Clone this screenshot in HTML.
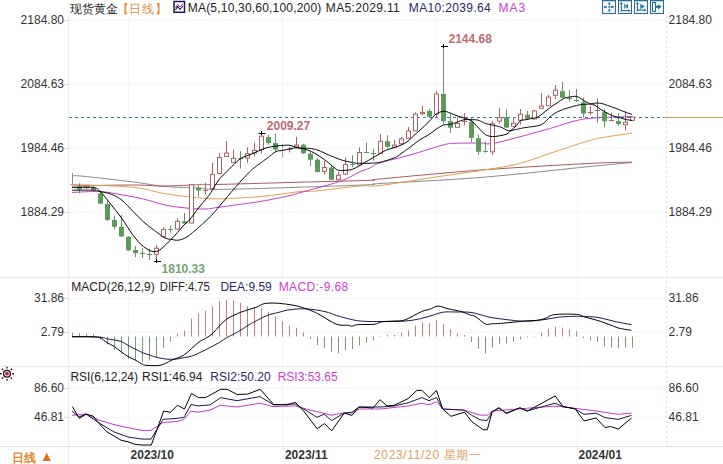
<!DOCTYPE html><html><head><meta charset="utf-8"><style>html,body{margin:0;padding:0;background:#fff;}svg{display:block}text{font-family:"Liberation Sans",sans-serif;font-size:12px}</style></head><body>
<svg width="723" height="464" viewBox="0 0 723 464">
<rect width="723" height="464" fill="#fff"/>
<g stroke="#f6f6f6" stroke-width="1">
<line x1="68" y1="20.5" x2="666" y2="20.5"/>
<line x1="68" y1="84.5" x2="666" y2="84.5"/>
<line x1="68" y1="148.5" x2="666" y2="148.5"/>
<line x1="68" y1="212.5" x2="666" y2="212.5"/>
<line x1="68" y1="298.5" x2="666" y2="298.5"/>
<line x1="68" y1="332.5" x2="666" y2="332.5"/>
<line x1="68" y1="388.5" x2="666" y2="388.5"/>
<line x1="68" y1="417.5" x2="666" y2="417.5"/>
<line x1="128.5" y1="16" x2="128.5" y2="446"/>
<line x1="282.5" y1="16" x2="282.5" y2="446"/>
<line x1="435.5" y1="16" x2="435.5" y2="446"/>
<line x1="577.5" y1="16" x2="577.5" y2="446"/>
</g>
<line x1="68.5" y1="16" x2="68.5" y2="464" stroke="#ececec"/>
<line x1="666.5" y1="16" x2="666.5" y2="446" stroke="#dcdcdc" stroke-dasharray="2,3"/>
<line x1="0" y1="277.5" x2="723" y2="277.5" stroke="#e8e8e8"/>
<line x1="0" y1="366.5" x2="723" y2="366.5" stroke="#e8e8e8"/>
<line x1="0" y1="446.5" x2="723" y2="446.5" stroke="#e4e4e4"/>
<g stroke="#dddddd">
<line x1="64" y1="20.5" x2="68" y2="20.5"/>
<line x1="64" y1="84.5" x2="68" y2="84.5"/>
<line x1="64" y1="148.5" x2="68" y2="148.5"/>
<line x1="64" y1="212.5" x2="68" y2="212.5"/>
<line x1="64" y1="298.5" x2="68" y2="298.5"/>
<line x1="64" y1="332.5" x2="68" y2="332.5"/>
<line x1="64" y1="388.5" x2="68" y2="388.5"/>
<line x1="64" y1="417.5" x2="68" y2="417.5"/>
<line x1="128.5" y1="446" x2="128.5" y2="450"/>
<line x1="283.5" y1="446" x2="283.5" y2="450"/>
<line x1="577.5" y1="446" x2="577.5" y2="450"/>
</g>
<line x1="72.5" y1="184.5" x2="72.5" y2="173" stroke="#8a8a8a"/>
<path d="M72.5,176.0 C74.1,176.0 72.0,175.1 82.0,176.1 C92.0,177.1 118.9,180.2 132.7,181.9 C146.5,183.6 153.8,185.5 165.0,186.5 C176.2,187.5 190.8,187.6 200.0,188.1 C209.2,188.6 203.3,189.6 220.0,189.4 C236.7,189.2 275.0,188.0 300.0,187.2 C325.0,186.4 356.7,185.3 370.0,184.7 C383.3,184.1 361.7,184.7 380.0,183.5 C398.3,182.3 445.0,180.3 480.0,177.5 C515.0,174.7 564.7,169.0 590.0,166.5 C615.3,164.0 625.0,163.2 632.0,162.5" fill="none" stroke="#8a8a8a" stroke-width="1"/>
<path d="M72.0,186.0 C82.1,185.8 117.2,185.0 132.7,185.0 C148.2,185.0 153.8,186.1 165.0,186.0 C176.2,185.9 190.8,185.0 200.0,184.7 C209.2,184.4 203.3,184.8 220.0,184.4 C236.7,184.0 275.0,182.9 300.0,182.2 C325.0,181.5 356.7,180.8 370.0,180.3 C383.3,179.8 361.7,180.7 380.0,179.0 C398.3,177.3 445.0,172.7 480.0,170.1 C515.0,167.5 564.7,164.7 590.0,163.4 C615.3,162.1 625.0,162.3 632.0,162.1" fill="none" stroke="#a45a5a" stroke-width="1"/>
<path d="M70.0,184.4 C80.5,184.9 116.9,185.6 132.7,187.2 C148.5,188.8 153.8,191.9 165.0,193.7 C176.2,195.5 190.8,197.2 200.0,198.0 C209.2,198.8 210.0,199.0 220.0,198.8 C230.0,198.6 246.7,197.8 260.0,196.6 C273.3,195.4 290.9,192.5 300.0,191.6 C309.1,190.7 304.7,192.0 314.7,191.1 C324.7,190.2 349.1,186.9 360.0,186.0 C370.9,185.1 368.2,186.9 380.0,185.5 C391.8,184.1 414.3,180.2 431.0,177.7 C447.7,175.2 465.7,172.9 480.0,170.6 C494.3,168.3 504.8,167.1 517.0,164.1 C529.2,161.1 543.3,155.5 553.0,152.3 C562.7,149.1 568.8,147.1 575.0,145.1 C581.2,143.1 585.2,141.7 590.0,140.4 C594.8,139.1 597.0,138.5 604.0,137.3 C611.0,136.1 627.3,133.8 632.0,133.1" fill="none" stroke="#e0a050" stroke-width="1"/>
<path d="M72.0,192.4 C76.7,192.3 91.7,191.2 100.0,191.6 C108.3,192.0 114.7,193.6 121.9,194.8 C129.1,196.0 136.2,197.3 143.4,199.0 C150.6,200.7 157.9,203.5 165.0,205.0 C172.1,206.5 179.3,207.3 186.0,208.0 C192.7,208.7 199.3,209.2 205.0,209.0 C210.7,208.8 210.8,208.3 220.0,207.1 C229.2,205.8 248.3,203.4 260.0,201.5 C271.7,199.6 283.3,197.0 290.0,195.5 C296.7,194.0 291.7,195.1 300.0,192.7 C308.3,190.3 330.0,184.8 340.0,181.3 C350.0,177.8 355.0,174.0 360.0,171.8 C365.0,169.6 366.7,169.4 370.0,167.9 C373.3,166.4 373.3,165.0 380.0,162.8 C386.7,160.7 399.5,158.0 410.0,155.0 C420.5,152.0 435.5,146.9 443.0,145.0 C450.5,143.1 448.6,143.6 454.8,143.3 C461.0,143.0 473.3,143.1 480.0,143.0 C486.7,142.9 484.8,145.0 495.0,143.0 C505.2,141.0 531.0,133.7 541.0,131.0 C551.0,128.3 549.3,128.7 555.0,127.0 C560.7,125.3 568.5,122.4 575.0,120.9 C581.5,119.4 584.5,118.7 594.0,118.0 C603.5,117.3 625.7,116.8 632.0,116.5" fill="none" stroke="#c040c0" stroke-width="1"/>
<line x1="69" y1="117.5" x2="660" y2="117.5" stroke="#3a74a0" stroke-dasharray="3,3"/>
<line x1="662.5" y1="117.5" x2="723" y2="117.5" stroke="#c8a050"/>
<line x1="79.5" y1="183.3" x2="79.5" y2="193.3" stroke="#6e8e6e"/>
<rect x="77" y="186.6" width="5" height="2.8" fill="#5c9a5c"/>
<line x1="86.5" y1="185.0" x2="86.5" y2="189.0" stroke="#a86464"/>
<rect x="84.5" y="186.0" width="4" height="1.7" fill="#fff" stroke="#a86464"/>
<line x1="93.5" y1="186.0" x2="93.5" y2="191.0" stroke="#6e8e6e"/>
<rect x="91" y="187.7" width="5" height="2.3" fill="#5c9a5c"/>
<line x1="100.5" y1="192.0" x2="100.5" y2="204.0" stroke="#6e8e6e"/>
<rect x="98" y="193.5" width="5" height="10.2" fill="#5c9a5c"/>
<line x1="107.5" y1="201.0" x2="107.5" y2="221.0" stroke="#6e8e6e"/>
<rect x="105" y="203.9" width="5" height="16.0" fill="#5c9a5c"/>
<line x1="114.5" y1="215.8" x2="114.5" y2="229.4" stroke="#6e8e6e"/>
<rect x="112" y="220.0" width="5" height="6.8" fill="#5c9a5c"/>
<line x1="121.5" y1="215.0" x2="121.5" y2="237.0" stroke="#6e8e6e"/>
<rect x="119" y="226.8" width="5" height="9.7" fill="#5c9a5c"/>
<line x1="128.5" y1="236.0" x2="128.5" y2="251.0" stroke="#6e8e6e"/>
<rect x="126" y="236.9" width="5" height="13.5" fill="#5c9a5c"/>
<line x1="135.5" y1="246.0" x2="135.5" y2="257.2" stroke="#6e8e6e"/>
<rect x="133" y="250.0" width="5" height="3.3" fill="#5c9a5c"/>
<line x1="142.5" y1="248.0" x2="142.5" y2="258.0" stroke="#6e8e6e"/>
<line x1="140" y1="253.5" x2="145" y2="253.5" stroke="#5c9a5c"/>
<line x1="149.5" y1="249.0" x2="149.5" y2="260.0" stroke="#6e8e6e"/>
<line x1="147" y1="254.5" x2="152" y2="254.5" stroke="#5c9a5c"/>
<line x1="156.5" y1="245.0" x2="156.5" y2="261.0" stroke="#a86464"/>
<rect x="154.5" y="248.2" width="4" height="6.0" fill="#fff" stroke="#a86464"/>
<line x1="163.5" y1="227.0" x2="163.5" y2="238.0" stroke="#a86464"/>
<rect x="161.5" y="229.6" width="4" height="7.0" fill="#fff" stroke="#a86464"/>
<line x1="170.5" y1="225.5" x2="170.5" y2="232.6" stroke="#6e8e6e"/>
<line x1="168" y1="229.5" x2="173" y2="229.5" stroke="#5c9a5c"/>
<line x1="177.5" y1="218.3" x2="177.5" y2="229.5" stroke="#a86464"/>
<rect x="175.5" y="221.3" width="4" height="7.8" fill="#fff" stroke="#a86464"/>
<line x1="184.5" y1="213.0" x2="184.5" y2="223.5" stroke="#6e8e6e"/>
<rect x="182" y="221.3" width="5" height="2.2" fill="#5c9a5c"/>
<line x1="191.5" y1="184.2" x2="191.5" y2="223.0" stroke="#a86464"/>
<rect x="189.5" y="184.7" width="4" height="38.3" fill="#fff" stroke="#a86464"/>
<line x1="198.5" y1="185.7" x2="198.5" y2="196.8" stroke="#6e8e6e"/>
<rect x="196" y="187.6" width="5" height="2.9" fill="#5c9a5c"/>
<line x1="205.5" y1="182.8" x2="205.5" y2="194.4" stroke="#a86464"/>
<line x1="203" y1="190.5" x2="208" y2="190.5" stroke="#a86464"/>
<line x1="212.5" y1="162.8" x2="212.5" y2="189.0" stroke="#a86464"/>
<rect x="210.5" y="174.4" width="4" height="14.2" fill="#fff" stroke="#a86464"/>
<line x1="219.5" y1="153.1" x2="219.5" y2="174.0" stroke="#a86464"/>
<rect x="217.5" y="157.5" width="4" height="16.0" fill="#fff" stroke="#a86464"/>
<line x1="226.5" y1="141.0" x2="226.5" y2="157.0" stroke="#a86464"/>
<rect x="224.5" y="153.1" width="4" height="3.4" fill="#fff" stroke="#a86464"/>
<line x1="233.5" y1="149.7" x2="233.5" y2="163.0" stroke="#a86464"/>
<rect x="231.5" y="158.4" width="4" height="3.9" fill="#fff" stroke="#a86464"/>
<line x1="240.5" y1="151.2" x2="240.5" y2="168.6" stroke="#6e8e6e"/>
<line x1="238" y1="158.5" x2="243" y2="158.5" stroke="#5c9a5c"/>
<line x1="247.5" y1="147.3" x2="247.5" y2="162.8" stroke="#a86464"/>
<rect x="245.5" y="153.6" width="4" height="4.4" fill="#fff" stroke="#a86464"/>
<line x1="254.5" y1="142.7" x2="254.5" y2="156.5" stroke="#a86464"/>
<rect x="252.5" y="150.4" width="4" height="2.6" fill="#fff" stroke="#a86464"/>
<line x1="261.5" y1="133.0" x2="261.5" y2="153.4" stroke="#a86464"/>
<rect x="259.5" y="136.2" width="4" height="13.4" fill="#fff" stroke="#a86464"/>
<line x1="268.5" y1="134.9" x2="268.5" y2="144.8" stroke="#6e8e6e"/>
<rect x="266" y="137.1" width="5" height="6.0" fill="#5c9a5c"/>
<line x1="275.5" y1="133.6" x2="275.5" y2="151.7" stroke="#6e8e6e"/>
<rect x="273" y="143.1" width="5" height="6.5" fill="#5c9a5c"/>
<line x1="282.5" y1="144.0" x2="282.5" y2="157.8" stroke="#a0a0a0"/>
<line x1="280" y1="150.5" x2="285" y2="150.5" stroke="#a0a0a0"/>
<line x1="289.5" y1="147.0" x2="289.5" y2="152.4" stroke="#a86464"/>
<line x1="287" y1="149.5" x2="292" y2="149.5" stroke="#a86464"/>
<line x1="296.5" y1="136.9" x2="296.5" y2="147.0" stroke="#a86464"/>
<rect x="294.5" y="145.1" width="4" height="1.7" fill="#fff" stroke="#a86464"/>
<line x1="303.5" y1="143.8" x2="303.5" y2="154.0" stroke="#6e8e6e"/>
<rect x="301" y="144.7" width="5" height="8.6" fill="#5c9a5c"/>
<line x1="310.5" y1="152.0" x2="310.5" y2="166.2" stroke="#6e8e6e"/>
<rect x="308" y="153.7" width="5" height="6.0" fill="#5c9a5c"/>
<line x1="317.5" y1="158.0" x2="317.5" y2="172.5" stroke="#6e8e6e"/>
<rect x="315" y="159.7" width="5" height="12.3" fill="#5c9a5c"/>
<line x1="324.5" y1="161.0" x2="324.5" y2="174.6" stroke="#a86464"/>
<rect x="322.5" y="167.5" width="4" height="3.9" fill="#fff" stroke="#a86464"/>
<line x1="331.5" y1="165.0" x2="331.5" y2="180.0" stroke="#6e8e6e"/>
<rect x="329" y="167.5" width="5" height="12.3" fill="#5c9a5c"/>
<line x1="338.5" y1="171.9" x2="338.5" y2="181.1" stroke="#a86464"/>
<rect x="336.5" y="175.3" width="4" height="4.4" fill="#fff" stroke="#a86464"/>
<line x1="345.5" y1="157.7" x2="345.5" y2="175.0" stroke="#a86464"/>
<rect x="343.5" y="164.6" width="4" height="9.5" fill="#fff" stroke="#a86464"/>
<line x1="352.5" y1="155.1" x2="352.5" y2="167.2" stroke="#6e8e6e"/>
<line x1="350" y1="164.5" x2="355" y2="164.5" stroke="#5c9a5c"/>
<line x1="359.5" y1="147.3" x2="359.5" y2="165.2" stroke="#a86464"/>
<rect x="357.5" y="152.5" width="4" height="12.5" fill="#fff" stroke="#a86464"/>
<line x1="366.5" y1="142.6" x2="366.5" y2="153.0" stroke="#6e8e6e"/>
<line x1="364" y1="152.5" x2="369" y2="152.5" stroke="#5c9a5c"/>
<line x1="373.5" y1="149.0" x2="373.5" y2="160.6" stroke="#6e8e6e"/>
<line x1="371" y1="153.5" x2="376" y2="153.5" stroke="#5c9a5c"/>
<line x1="380.5" y1="133.9" x2="380.5" y2="153.5" stroke="#a86464"/>
<rect x="378.5" y="141.2" width="4" height="12.1" fill="#fff" stroke="#a86464"/>
<line x1="387.5" y1="135.2" x2="387.5" y2="148.0" stroke="#6e8e6e"/>
<rect x="385" y="141.2" width="5" height="5.6" fill="#5c9a5c"/>
<line x1="394.5" y1="139.9" x2="394.5" y2="147.4" stroke="#a86464"/>
<rect x="392.5" y="145.1" width="4" height="2.1" fill="#fff" stroke="#a86464"/>
<line x1="401.5" y1="136.9" x2="401.5" y2="144.0" stroke="#a86464"/>
<rect x="399.5" y="139.0" width="4" height="4.8" fill="#fff" stroke="#a86464"/>
<line x1="408.5" y1="126.9" x2="408.5" y2="138.5" stroke="#a86464"/>
<rect x="406.5" y="131.0" width="4" height="7.2" fill="#fff" stroke="#a86464"/>
<line x1="415.5" y1="112.2" x2="415.5" y2="131.0" stroke="#a86464"/>
<rect x="413.5" y="114.1" width="4" height="16.8" fill="#fff" stroke="#a86464"/>
<line x1="422.5" y1="105.7" x2="422.5" y2="115.4" stroke="#a86464"/>
<rect x="420.5" y="112.4" width="4" height="1.3" fill="#fff" stroke="#a86464"/>
<line x1="429.5" y1="108.9" x2="429.5" y2="118.0" stroke="#6e8e6e"/>
<rect x="427" y="110.9" width="5" height="5.8" fill="#5c9a5c"/>
<line x1="436.5" y1="90.8" x2="436.5" y2="116.7" stroke="#a86464"/>
<rect x="434.5" y="94.0" width="4" height="20.1" fill="#fff" stroke="#a86464"/>
<line x1="443.5" y1="45.5" x2="443.5" y2="124.5" stroke="#6e8e6e"/>
<rect x="441" y="94.0" width="5" height="27.2" fill="#5c9a5c"/>
<line x1="450.5" y1="114.1" x2="450.5" y2="132.9" stroke="#6e8e6e"/>
<rect x="448" y="121.2" width="5" height="6.5" fill="#5c9a5c"/>
<line x1="457.5" y1="117.1" x2="457.5" y2="128.0" stroke="#a86464"/>
<rect x="455.5" y="123.5" width="4" height="3.9" fill="#fff" stroke="#a86464"/>
<line x1="464.5" y1="113.2" x2="464.5" y2="125.3" stroke="#a86464"/>
<line x1="462" y1="121.5" x2="467" y2="121.5" stroke="#a86464"/>
<line x1="471.5" y1="117.5" x2="471.5" y2="142.0" stroke="#6e8e6e"/>
<rect x="469" y="121.8" width="5" height="16.0" fill="#5c9a5c"/>
<line x1="478.5" y1="134.5" x2="478.5" y2="154.9" stroke="#6e8e6e"/>
<rect x="476" y="138.3" width="5" height="13.5" fill="#5c9a5c"/>
<line x1="485.5" y1="141.3" x2="485.5" y2="152.6" stroke="#6e8e6e"/>
<line x1="483" y1="151.5" x2="488" y2="151.5" stroke="#5c9a5c"/>
<line x1="492.5" y1="121.1" x2="492.5" y2="154.9" stroke="#a86464"/>
<rect x="490.5" y="123.7" width="4" height="28.1" fill="#fff" stroke="#a86464"/>
<line x1="499.5" y1="107.8" x2="499.5" y2="123.3" stroke="#a86464"/>
<rect x="497.5" y="117.7" width="4" height="3.4" fill="#fff" stroke="#a86464"/>
<line x1="506.5" y1="109.5" x2="506.5" y2="128.0" stroke="#6e8e6e"/>
<rect x="504" y="117.2" width="5" height="10.4" fill="#5c9a5c"/>
<line x1="513.5" y1="117.2" x2="513.5" y2="126.5" stroke="#a86464"/>
<rect x="511.5" y="123.3" width="4" height="3.0" fill="#fff" stroke="#a86464"/>
<line x1="520.5" y1="109.0" x2="520.5" y2="124.6" stroke="#a86464"/>
<rect x="518.5" y="114.2" width="4" height="6.1" fill="#fff" stroke="#a86464"/>
<line x1="527.5" y1="110.9" x2="527.5" y2="119.0" stroke="#6e8e6e"/>
<rect x="525" y="114.7" width="5" height="3.9" fill="#5c9a5c"/>
<line x1="534.5" y1="110.0" x2="534.5" y2="119.5" stroke="#a86464"/>
<rect x="532.5" y="110.9" width="4" height="8.1" fill="#fff" stroke="#a86464"/>
<line x1="541.5" y1="93.2" x2="541.5" y2="108.5" stroke="#a86464"/>
<rect x="539.5" y="106.1" width="4" height="2.2" fill="#fff" stroke="#a86464"/>
<line x1="548.5" y1="94.9" x2="548.5" y2="106.0" stroke="#a86464"/>
<rect x="546.5" y="97.1" width="4" height="8.6" fill="#fff" stroke="#a86464"/>
<line x1="555.5" y1="85.0" x2="555.5" y2="99.2" stroke="#a86464"/>
<rect x="553.5" y="90.2" width="4" height="5.1" fill="#fff" stroke="#a86464"/>
<line x1="562.5" y1="81.7" x2="562.5" y2="98.0" stroke="#6e8e6e"/>
<rect x="560" y="91.2" width="5" height="6.5" fill="#5c9a5c"/>
<line x1="569.5" y1="89.9" x2="569.5" y2="101.6" stroke="#6e8e6e"/>
<line x1="567" y1="98.5" x2="572" y2="98.5" stroke="#5c9a5c"/>
<line x1="576.5" y1="89.0" x2="576.5" y2="102.0" stroke="#6e8e6e"/>
<line x1="574" y1="100.5" x2="579" y2="100.5" stroke="#5c9a5c"/>
<line x1="583.5" y1="97.7" x2="583.5" y2="117.5" stroke="#6e8e6e"/>
<rect x="581" y="102.4" width="5" height="11.2" fill="#5c9a5c"/>
<line x1="590.5" y1="105.9" x2="590.5" y2="115.3" stroke="#a86464"/>
<line x1="588" y1="112.5" x2="593" y2="112.5" stroke="#a86464"/>
<line x1="597.5" y1="98.4" x2="597.5" y2="122.6" stroke="#a86464"/>
<line x1="595" y1="110.5" x2="600" y2="110.5" stroke="#a86464"/>
<line x1="604.5" y1="109.2" x2="604.5" y2="127.3" stroke="#6e8e6e"/>
<rect x="602" y="112.2" width="5" height="9.1" fill="#5c9a5c"/>
<line x1="611.5" y1="112.7" x2="611.5" y2="121.3" stroke="#a86464"/>
<line x1="609" y1="120.5" x2="614" y2="120.5" stroke="#a86464"/>
<line x1="618.5" y1="113.1" x2="618.5" y2="125.6" stroke="#6e8e6e"/>
<rect x="616" y="120.9" width="5" height="3.0" fill="#5c9a5c"/>
<line x1="625.5" y1="111.0" x2="625.5" y2="130.3" stroke="#a86464"/>
<rect x="623.5" y="122.2" width="4" height="2.5" fill="#fff" stroke="#a86464"/>
<line x1="632.5" y1="116.6" x2="632.5" y2="120.5" stroke="#a86464"/>
<rect x="630.5" y="117.0" width="4" height="3.4" fill="#fff" stroke="#a86464"/>
<path d="M72.0,190.2 C75.5,190.2 88.3,190.0 93.0,190.2 C97.7,190.4 97.0,190.8 100.0,191.5 C103.0,192.2 107.3,192.7 111.0,194.1 C114.7,195.5 118.3,197.4 121.9,200.2 C125.5,203.0 129.1,207.4 132.7,211.0 C136.3,214.6 139.8,218.5 143.4,221.7 C147.0,224.9 150.6,227.6 154.2,230.3 C157.8,233.0 162.0,236.4 165.0,237.9 C168.0,239.4 169.8,239.1 172.0,239.5 C174.2,239.9 175.7,240.5 178.0,240.2 C180.3,239.9 183.2,239.1 186.0,237.5 C188.8,235.9 190.9,234.0 195.0,230.5 C199.1,227.0 206.1,220.8 210.3,216.6 C214.5,212.4 215.7,210.5 220.0,205.5 C224.3,200.5 231.0,192.2 236.0,186.5 C241.0,180.8 246.4,175.1 250.0,171.5 C253.6,167.9 254.9,167.2 257.8,165.0 C260.7,162.8 264.2,160.4 267.2,158.2 C270.2,156.0 273.3,153.0 275.9,151.7 C278.5,150.4 280.4,150.9 282.8,150.4 C285.2,149.9 287.6,149.2 290.0,148.8 C292.4,148.4 294.6,147.8 296.9,147.7 C299.2,147.6 301.4,148.2 303.8,148.3 C306.2,148.4 308.9,148.0 311.6,148.5 C314.3,149.0 317.1,149.9 320.2,151.1 C323.3,152.3 326.9,154.2 330.0,155.5 C333.1,156.8 336.0,158.1 338.6,159.0 C341.2,159.9 343.2,160.5 345.5,161.1 C347.8,161.7 350.2,162.2 352.4,162.6 C354.5,163.0 355.5,163.2 358.4,163.3 C361.3,163.4 366.4,163.4 370.0,163.2 C373.6,163.0 376.0,163.2 380.0,162.3 C384.0,161.4 390.5,159.4 394.0,158.0 C397.5,156.6 398.3,155.5 401.0,153.7 C403.7,151.9 406.8,149.5 410.0,147.2 C413.2,144.9 416.8,141.8 420.0,139.7 C423.2,137.6 426.3,136.2 429.0,134.5 C431.7,132.8 433.6,130.9 436.0,129.3 C438.4,127.7 441.3,125.8 443.6,125.0 C445.9,124.2 447.8,124.9 450.0,124.4 C452.2,123.9 454.7,123.0 457.0,122.2 C459.3,121.4 461.6,120.1 464.0,119.7 C466.4,119.3 469.3,119.6 471.6,119.7 C473.9,119.8 475.7,119.5 478.0,120.1 C480.3,120.7 482.6,122.5 485.6,123.5 C488.6,124.5 493.4,125.2 496.2,125.9 C499.0,126.6 500.5,126.9 502.2,127.6 C503.9,128.3 505.2,129.7 506.6,130.2 C508.1,130.7 509.2,130.8 510.9,130.6 C512.6,130.4 514.5,129.8 516.9,129.3 C519.2,128.8 521.0,128.3 525.0,127.6 C529.0,126.9 536.8,126.5 540.7,125.0 C544.6,123.5 546.1,120.5 548.4,118.6 C550.7,116.7 552.0,115.0 554.5,113.4 C557.0,111.9 560.6,110.4 563.6,109.3 C566.6,108.2 569.3,107.5 572.2,106.7 C575.1,105.9 578.0,105.0 580.9,104.6 C583.8,104.2 587.3,104.3 589.5,104.1 C591.7,103.9 592.5,103.3 594.3,103.2 C596.1,103.1 598.1,102.9 600.3,103.2 C602.4,103.5 604.6,104.4 607.2,105.3 C609.8,106.2 613.0,107.3 615.9,108.4 C618.8,109.5 621.8,110.8 624.5,111.8 C627.2,112.8 630.8,114.0 632.0,114.4" fill="none" stroke="#101018" stroke-width="1"/>
<path d="M72.0,187.5 C75.5,187.5 88.3,186.8 93.0,187.5 C97.7,188.2 97.3,188.8 100.3,191.6 C103.3,194.4 107.4,200.0 111.0,204.5 C114.6,209.0 118.3,213.5 121.9,218.5 C125.5,223.5 129.1,230.0 132.7,234.7 C136.3,239.4 139.5,243.7 143.4,246.5 C147.3,249.3 151.9,252.5 156.3,251.5 C160.7,250.5 165.4,244.9 170.0,240.5 C174.6,236.1 180.8,228.4 184.0,225.0 C187.2,221.6 187.0,223.0 189.5,220.0 C192.0,217.0 195.9,211.1 199.2,207.0 C202.4,202.9 206.2,199.2 209.0,195.4 C211.8,191.7 213.9,187.3 215.7,184.5 C217.5,181.7 218.6,180.1 220.0,178.3 C221.4,176.6 222.1,176.3 224.4,174.0 C226.8,171.7 231.2,166.9 234.1,164.2 C237.0,161.5 239.2,159.5 241.9,157.9 C244.6,156.3 247.2,155.9 250.0,154.7 C252.8,153.5 255.7,152.1 258.6,150.9 C261.5,149.7 264.3,148.4 267.2,147.6 C270.1,146.8 273.0,146.5 275.9,146.1 C278.8,145.7 282.1,145.4 284.5,145.3 C286.9,145.2 287.9,145.0 290.0,145.4 C292.1,145.8 294.6,147.1 296.9,147.7 C299.2,148.3 301.4,148.2 303.8,148.8 C306.2,149.5 308.9,150.3 311.6,151.6 C314.3,152.9 317.8,155.1 320.2,156.7 C322.6,158.3 324.6,159.8 326.2,161.0 C327.8,162.2 328.5,162.9 330.0,164.1 C331.5,165.3 333.8,167.4 335.2,168.4 C336.6,169.4 336.6,170.0 338.6,170.3 C340.6,170.6 344.9,170.4 347.2,170.2 C349.5,170.0 350.5,170.0 352.4,169.3 C354.3,168.7 356.4,167.4 358.4,166.3 C360.4,165.2 362.6,163.7 364.5,162.6 C366.4,161.5 367.3,161.1 370.0,159.5 C372.7,157.9 377.7,154.9 380.5,153.3 C383.3,151.7 384.8,150.7 387.0,149.8 C389.2,148.9 391.7,148.5 394.0,147.7 C396.3,146.9 398.7,146.2 401.0,145.1 C403.3,144.0 405.7,143.0 408.0,141.2 C410.3,139.4 413.0,136.3 415.0,134.5 C417.0,132.7 417.7,132.3 420.0,130.2 C422.3,128.0 426.3,124.3 429.0,121.6 C431.7,118.9 433.6,115.9 436.0,114.2 C438.4,112.5 441.3,111.4 443.6,111.2 C445.9,111.0 447.8,112.2 450.0,113.0 C452.2,113.8 454.7,115.0 457.0,115.8 C459.3,116.6 461.6,117.0 464.0,117.9 C466.4,118.8 469.3,119.4 471.6,121.0 C473.9,122.6 475.7,125.1 478.0,127.4 C480.3,129.7 483.2,133.2 485.6,134.7 C488.1,136.2 490.4,136.4 492.7,136.6 C495.0,136.8 497.2,136.2 499.5,135.8 C501.8,135.4 504.7,135.0 506.6,134.1 C508.5,133.2 509.2,132.1 510.9,130.6 C512.6,129.1 515.3,126.7 516.9,125.0 C518.5,123.3 518.9,121.6 520.3,120.7 C521.6,119.8 523.2,120.2 525.0,119.8 C526.8,119.4 529.0,119.1 531.2,118.6 C533.4,118.1 535.7,118.2 538.1,116.9 C540.5,115.6 543.5,112.8 545.9,110.9 C548.3,109.0 550.9,107.0 552.8,105.7 C554.6,104.4 555.2,104.2 557.0,103.0 C558.8,101.8 561.6,99.5 563.6,98.5 C565.6,97.5 566.6,97.5 568.8,97.2 C571.0,96.9 574.2,95.9 576.6,96.4 C579.0,96.9 581.2,99.1 583.4,100.3 C585.5,101.5 587.5,102.9 589.5,103.7 C591.5,104.5 593.4,104.4 595.2,105.3 C597.0,106.2 598.3,107.9 600.3,109.2 C602.3,110.5 605.2,112.0 607.2,113.1 C609.2,114.2 610.2,114.9 612.4,115.7 C614.6,116.5 617.9,117.2 620.2,117.8 C622.5,118.4 624.2,119.2 626.2,119.6 C628.2,120.0 631.0,120.3 632.0,120.4" fill="none" stroke="#000" stroke-width="1"/>
<line x1="441" y1="46.5" x2="448" y2="46.5" stroke="#000"/>
<line x1="443.5" y1="44" x2="443.5" y2="48" stroke="#000"/>
<line x1="156.5" y1="259" x2="156.5" y2="263" stroke="#000"/>
<line x1="261.5" y1="131" x2="261.5" y2="135" stroke="#000"/>
<line x1="154" y1="261.5" x2="161" y2="261.5" stroke="#000"/>
<line x1="258.5" y1="133.5" x2="265.5" y2="133.5" stroke="#000"/>
<text x="448.5" y="43" fill="#bd6a72" font-weight="bold">2144.68</text>
<text x="266.8" y="130" fill="#bd6a72" font-weight="bold">2009.27</text>
<text x="161.6" y="273" fill="#74a474" font-weight="bold">1810.33</text>
<g stroke-width="1">
<line x1="72.5" y1="336.5" x2="72.5" y2="332.5" stroke="#c08080"/>
<line x1="79.5" y1="336.5" x2="79.5" y2="333.2" stroke="#c08080"/>
<line x1="86.5" y1="336.5" x2="86.5" y2="333.5" stroke="#c08080"/>
<line x1="93.5" y1="336.5" x2="93.5" y2="334" stroke="#c08080"/>
<line x1="100.5" y1="336.5" x2="100.5" y2="339.8" stroke="#7a9a7a"/>
<line x1="107.5" y1="336.5" x2="107.5" y2="344.4" stroke="#7a9a7a"/>
<line x1="114.5" y1="336.5" x2="114.5" y2="349.9" stroke="#7a9a7a"/>
<line x1="121.5" y1="336.5" x2="121.5" y2="353.8" stroke="#7a9a7a"/>
<line x1="128.5" y1="336.5" x2="128.5" y2="358.8" stroke="#7a9a7a"/>
<line x1="135.5" y1="336.5" x2="135.5" y2="360.4" stroke="#7a9a7a"/>
<line x1="142.5" y1="336.5" x2="142.5" y2="362.1" stroke="#7a9a7a"/>
<line x1="149.5" y1="336.5" x2="149.5" y2="360.4" stroke="#7a9a7a"/>
<line x1="156.5" y1="336.5" x2="156.5" y2="357.1" stroke="#7a9a7a"/>
<line x1="163.5" y1="336.5" x2="163.5" y2="347.7" stroke="#7a9a7a"/>
<line x1="170.5" y1="336.5" x2="170.5" y2="341.6" stroke="#7a9a7a"/>
<line x1="177.5" y1="336.5" x2="177.5" y2="333.4" stroke="#c08080"/>
<line x1="184.5" y1="336.5" x2="184.5" y2="330.6" stroke="#c08080"/>
<line x1="191.5" y1="336.5" x2="191.5" y2="318.5" stroke="#c08080"/>
<line x1="198.5" y1="336.5" x2="198.5" y2="313.5" stroke="#c08080"/>
<line x1="205.5" y1="336.5" x2="205.5" y2="310.7" stroke="#c08080"/>
<line x1="212.5" y1="336.5" x2="212.5" y2="306.4" stroke="#c08080"/>
<line x1="219.5" y1="336.5" x2="219.5" y2="301.4" stroke="#c08080"/>
<line x1="226.5" y1="336.5" x2="226.5" y2="300" stroke="#c08080"/>
<line x1="233.5" y1="336.5" x2="233.5" y2="300" stroke="#c08080"/>
<line x1="240.5" y1="336.5" x2="240.5" y2="302.8" stroke="#c08080"/>
<line x1="247.5" y1="336.5" x2="247.5" y2="306.4" stroke="#c08080"/>
<line x1="254.5" y1="336.5" x2="254.5" y2="307.6" stroke="#c08080"/>
<line x1="261.5" y1="336.5" x2="261.5" y2="307.6" stroke="#c08080"/>
<line x1="268.5" y1="336.5" x2="268.5" y2="311.8" stroke="#c08080"/>
<line x1="275.5" y1="336.5" x2="275.5" y2="316.6" stroke="#c08080"/>
<line x1="282.5" y1="336.5" x2="282.5" y2="321.1" stroke="#c08080"/>
<line x1="289.5" y1="336.5" x2="289.5" y2="325.7" stroke="#c08080"/>
<line x1="296.5" y1="336.5" x2="296.5" y2="327.8" stroke="#c08080"/>
<line x1="303.5" y1="336.5" x2="303.5" y2="332.5" stroke="#c08080"/>
<line x1="310.5" y1="336.5" x2="310.5" y2="338.8" stroke="#7a9a7a"/>
<line x1="317.5" y1="336.5" x2="317.5" y2="345" stroke="#7a9a7a"/>
<line x1="324.5" y1="336.5" x2="324.5" y2="348.1" stroke="#7a9a7a"/>
<line x1="331.5" y1="336.5" x2="331.5" y2="351.8" stroke="#7a9a7a"/>
<line x1="338.5" y1="336.5" x2="338.5" y2="353.3" stroke="#7a9a7a"/>
<line x1="345.5" y1="336.5" x2="345.5" y2="350.2" stroke="#7a9a7a"/>
<line x1="352.5" y1="336.5" x2="352.5" y2="349.1" stroke="#7a9a7a"/>
<line x1="359.5" y1="336.5" x2="359.5" y2="345.6" stroke="#7a9a7a"/>
<line x1="366.5" y1="336.5" x2="366.5" y2="342.6" stroke="#7a9a7a"/>
<line x1="373.5" y1="336.5" x2="373.5" y2="340.4" stroke="#7a9a7a"/>
<line x1="380.5" y1="336.5" x2="380.5" y2="337.2" stroke="#7a9a7a"/>
<line x1="387.5" y1="336.5" x2="387.5" y2="334.8" stroke="#c08080"/>
<line x1="394.5" y1="336.5" x2="394.5" y2="334.8" stroke="#c08080"/>
<line x1="401.5" y1="336.5" x2="401.5" y2="332.5" stroke="#c08080"/>
<line x1="408.5" y1="336.5" x2="408.5" y2="330.5" stroke="#c08080"/>
<line x1="415.5" y1="336.5" x2="415.5" y2="325.7" stroke="#c08080"/>
<line x1="422.5" y1="336.5" x2="422.5" y2="322.2" stroke="#c08080"/>
<line x1="429.5" y1="336.5" x2="429.5" y2="323.2" stroke="#c08080"/>
<line x1="436.5" y1="336.5" x2="436.5" y2="320.1" stroke="#c08080"/>
<line x1="443.5" y1="336.5" x2="443.5" y2="324.2" stroke="#c08080"/>
<line x1="450.5" y1="336.5" x2="450.5" y2="329.4" stroke="#c08080"/>
<line x1="457.5" y1="336.5" x2="457.5" y2="333.2" stroke="#c08080"/>
<line x1="464.5" y1="336.5" x2="464.5" y2="335" stroke="#c08080"/>
<line x1="471.5" y1="336.5" x2="471.5" y2="341.9" stroke="#7a9a7a"/>
<line x1="478.5" y1="336.5" x2="478.5" y2="348.8" stroke="#7a9a7a"/>
<line x1="485.5" y1="336.5" x2="485.5" y2="353.5" stroke="#7a9a7a"/>
<line x1="492.5" y1="336.5" x2="492.5" y2="347.6" stroke="#7a9a7a"/>
<line x1="499.5" y1="336.5" x2="499.5" y2="344.1" stroke="#7a9a7a"/>
<line x1="506.5" y1="336.5" x2="506.5" y2="343.6" stroke="#7a9a7a"/>
<line x1="513.5" y1="336.5" x2="513.5" y2="341.8" stroke="#7a9a7a"/>
<line x1="520.5" y1="336.5" x2="520.5" y2="339.4" stroke="#7a9a7a"/>
<line x1="527.5" y1="336.5" x2="527.5" y2="337.6" stroke="#7a9a7a"/>
<line x1="534.5" y1="336.5" x2="534.5" y2="337" stroke="#7a9a7a"/>
<line x1="541.5" y1="336.5" x2="541.5" y2="332.4" stroke="#c08080"/>
<line x1="548.5" y1="336.5" x2="548.5" y2="328.8" stroke="#c08080"/>
<line x1="555.5" y1="336.5" x2="555.5" y2="326.5" stroke="#c08080"/>
<line x1="562.5" y1="336.5" x2="562.5" y2="327.6" stroke="#c08080"/>
<line x1="569.5" y1="336.5" x2="569.5" y2="329.5" stroke="#c08080"/>
<line x1="576.5" y1="336.5" x2="576.5" y2="331.2" stroke="#c08080"/>
<line x1="583.5" y1="336.5" x2="583.5" y2="338.2" stroke="#7a9a7a"/>
<line x1="590.5" y1="336.5" x2="590.5" y2="340.6" stroke="#7a9a7a"/>
<line x1="597.5" y1="336.5" x2="597.5" y2="341.8" stroke="#7a9a7a"/>
<line x1="604.5" y1="336.5" x2="604.5" y2="346.5" stroke="#7a9a7a"/>
<line x1="611.5" y1="336.5" x2="611.5" y2="347.6" stroke="#7a9a7a"/>
<line x1="618.5" y1="336.5" x2="618.5" y2="348.4" stroke="#7a9a7a"/>
<line x1="625.5" y1="336.5" x2="625.5" y2="347.6" stroke="#7a9a7a"/>
<line x1="632.5" y1="336.5" x2="632.5" y2="347.6" stroke="#7a9a7a"/>
</g>
<path d="M72.0,336.7 C76.7,336.8 94.1,336.8 100.0,337.2 C105.9,337.6 104.8,338.3 107.2,338.8 C109.6,339.3 112.0,339.5 114.4,340.0 C116.8,340.5 119.2,340.7 121.5,341.6 C123.8,342.5 125.8,344.2 128.2,345.5 C130.6,346.8 133.5,348.2 135.9,349.4 C138.3,350.6 140.4,351.8 142.6,352.7 C144.8,353.6 147.0,354.2 149.2,354.9 C151.4,355.6 153.0,356.4 155.8,357.1 C158.6,357.8 162.6,358.6 165.8,359.0 C169.0,359.4 171.9,359.4 175.0,359.2 C178.1,359.0 181.5,358.1 184.2,357.6 C186.9,357.1 188.9,356.9 191.3,356.2 C193.7,355.5 196.0,354.4 198.4,353.3 C200.8,352.2 203.2,351.0 205.6,349.8 C208.0,348.6 210.3,347.5 212.7,346.2 C215.1,344.9 217.4,343.6 219.8,342.2 C222.2,340.8 224.5,338.9 226.9,337.5 C229.3,336.1 231.6,335.3 234.0,334.0 C236.4,332.7 238.4,331.5 241.1,329.9 C243.8,328.3 247.7,325.6 250.0,324.2 C252.3,322.8 252.2,322.9 255.0,321.5 C257.9,320.1 263.2,317.0 267.1,315.5 C271.0,314.0 274.5,313.4 278.2,312.5 C281.9,311.6 284.6,310.4 289.2,309.8 C293.8,309.2 299.8,308.5 305.8,308.8 C311.8,309.1 319.9,310.5 325.0,311.6 C330.1,312.7 331.9,314.1 336.6,315.5 C341.3,316.9 348.6,318.9 353.2,319.9 C357.8,320.9 359.6,321.0 364.2,321.3 C368.8,321.6 375.7,321.5 380.8,321.5 C385.9,321.5 389.9,321.7 395.0,321.5 C400.1,321.3 406.1,321.2 411.6,320.4 C417.1,319.6 423.0,318.0 428.2,316.6 C433.4,315.2 438.1,313.1 442.6,312.3 C447.1,311.5 450.4,312.0 455.0,312.0 C459.6,312.0 465.6,311.8 470.0,312.3 C474.4,312.8 477.4,314.0 481.1,314.9 C484.8,315.8 487.5,316.9 492.1,317.7 C496.7,318.5 504.1,319.3 508.7,319.9 C513.3,320.4 516.1,320.8 519.8,321.0 C523.5,321.2 526.6,321.2 530.8,321.0 C535.0,320.8 540.3,320.1 545.0,319.5 C549.7,318.9 554.2,317.6 558.8,317.1 C563.4,316.6 569.0,316.5 572.7,316.4 C576.4,316.3 576.9,316.2 581.0,316.4 C585.1,316.6 592.1,316.6 597.6,317.4 C603.1,318.2 608.6,320.1 614.2,321.3 C619.8,322.5 628.5,324.1 631.4,324.7" fill="none" stroke="#1a1a4a" stroke-width="1"/>
<path d="M72.0,336.7 C75.5,336.7 88.3,336.5 93.0,336.7 C97.7,336.9 97.6,336.7 100.0,337.7 C102.4,338.7 104.8,341.2 107.2,342.7 C109.6,344.2 112.0,345.0 114.4,346.6 C116.8,348.2 119.2,350.5 121.5,352.1 C123.8,353.8 125.8,355.1 128.2,356.5 C130.6,357.9 133.5,359.1 135.9,360.4 C138.3,361.7 140.8,363.5 142.6,364.3 C144.4,365.1 144.2,365.2 147.0,365.4 C149.8,365.6 156.1,365.8 159.2,365.4 C162.3,365.0 163.7,364.1 165.8,363.2 C167.9,362.3 168.9,361.4 172.0,360.0 C175.1,358.6 179.8,357.7 184.2,354.8 C188.6,351.9 194.8,345.2 198.4,342.5 C202.0,339.8 203.2,339.9 205.6,338.4 C208.0,336.9 210.3,335.5 212.7,333.4 C215.1,331.3 217.4,328.0 219.8,325.6 C222.2,323.2 224.5,320.5 226.9,318.8 C229.3,317.1 231.6,316.3 234.0,315.2 C236.4,314.1 238.4,313.1 241.1,312.1 C243.8,311.1 247.3,310.1 250.0,309.2 C252.7,308.3 254.5,307.9 257.0,307.0 C259.5,306.1 261.4,304.1 264.9,303.5 C268.4,302.9 273.2,303.0 278.2,303.3 C283.2,303.6 290.4,304.7 294.8,305.5 C299.2,306.3 301.6,307.3 304.7,308.3 C307.8,309.3 311.1,310.5 313.6,311.6 C316.2,312.7 316.2,312.8 320.0,314.9 C323.8,317.0 332.0,322.6 336.6,324.3 C341.2,326.0 345.1,324.9 347.7,325.2 C350.3,325.5 350.5,326.3 352.1,326.2 C353.8,326.1 353.9,324.9 357.6,324.6 C361.3,324.3 370.1,324.8 374.2,324.3 C378.3,323.8 378.5,322.4 382.0,321.8 C385.5,321.2 391.2,321.3 395.0,321.0 C398.8,320.7 400.6,321.5 405.0,319.9 C409.4,318.3 417.4,313.4 421.5,311.6 C425.6,309.9 426.5,310.3 429.3,309.4 C432.1,308.5 435.0,306.2 438.1,306.1 C441.2,306.0 444.2,307.9 448.1,308.8 C452.0,309.7 457.8,310.6 461.4,311.6 C465.0,312.6 467.6,314.1 470.0,314.9 C472.4,315.7 472.9,315.1 475.5,316.6 C478.1,318.1 482.7,322.8 485.5,324.0 C488.3,325.2 489.2,323.9 492.1,323.8 C495.1,323.7 499.5,323.5 503.2,323.2 C506.9,322.9 510.5,322.5 514.2,322.1 C517.9,321.7 521.6,321.3 525.3,321.0 C529.0,320.7 533.1,320.8 536.4,320.4 C539.7,320.0 542.0,319.5 545.0,318.5 C548.0,317.5 549.4,315.3 554.7,314.6 C560.0,313.9 571.7,314.0 576.8,314.4 C581.9,314.8 581.2,316.0 585.1,317.1 C589.0,318.2 595.0,319.6 600.3,321.3 C605.6,323.0 613.2,326.2 616.9,327.5 C620.6,328.8 620.1,328.4 622.5,328.9 C624.9,329.4 629.9,330.1 631.4,330.3" fill="none" stroke="#000" stroke-width="1"/>
<polyline points="72.0,415.3 86.0,414.0 100.0,420.5 114.0,424.6 128.0,427.7 142.0,430.4 151.0,430.4 163.0,422.5 177.0,421.5 184.0,419.4 191.0,411.1 198.0,412.2 210.0,410.1 220.0,405.3 237.0,407.0 260.0,403.2 273.0,406.6 295.0,405.9 310.0,410.1 324.0,413.2 331.0,415.3 344.0,412.8 352.0,412.8 359.0,409.0 380.0,409.0 408.0,406.0 422.0,403.2 429.0,404.9 436.5,401.8 442.7,409.0 464.0,410.1 480.0,415.0 487.0,415.3 492.0,411.0 520.0,408.8 555.0,406.1 575.0,408.3 596.0,411.0 618.0,414.3 631.5,413.2" fill="none" stroke="#c040c0" stroke-width="1"/>
<polyline points="72.0,411.1 79.0,417.0 86.0,414.0 100.0,423.6 114.0,431.9 128.0,437.0 142.0,439.1 151.0,439.1 163.0,419.4 177.0,418.4 184.0,417.3 191.0,404.5 198.0,405.9 210.0,404.9 220.7,397.6 237.0,400.7 260.0,396.6 273.7,404.9 295.0,403.9 303.7,409.0 317.0,417.3 324.0,414.2 331.7,420.5 344.0,413.2 352.0,412.2 359.0,407.0 380.0,407.0 394.0,406.0 408.0,402.8 422.0,397.6 429.0,400.7 436.5,397.6 442.7,409.0 464.0,410.1 471.7,415.3 480.0,419.8 487.0,420.5 492.0,412.0 499.0,408.0 506.0,413.0 520.0,408.0 527.0,411.0 555.0,403.2 563.0,406.5 575.0,408.8 584.0,414.3 596.0,413.2 605.0,417.6 618.0,419.4 631.5,415.4" fill="none" stroke="#1a1a4a" stroke-width="1"/>
<polyline points="72.4,406.6 79.4,418.4 86.0,414.2 93.0,416.0 100.0,424.6 107.0,431.9 114.0,436.0 121.0,440.2 128.0,441.8 135.0,444.3 142.0,445.0 151.3,445.0 163.7,411.1 170.5,412.2 177.5,405.3 184.5,409.0 191.5,393.5 198.5,397.6 205.5,397.6 220.7,389.3 227.0,389.3 237.3,394.5 247.7,394.1 260.2,389.3 273.7,404.5 287.1,404.9 295.4,402.4 303.7,411.1 317.2,428.8 324.5,423.6 331.7,430.8 344.2,413.2 352.0,415.3 359.0,407.0 373.0,408.0 380.0,399.7 387.0,405.9 394.0,405.3 408.0,398.7 416.8,390.4 422.0,390.4 429.2,397.6 436.5,390.4 442.7,409.0 451.0,416.3 464.5,412.2 471.7,421.5 483.2,429.8 487.3,429.8 492.0,412.1 498.8,407.7 506.5,413.6 519.8,407.7 527.6,411.0 555.2,395.9 563.0,406.5 575.1,408.8 584.0,420.9 596.2,418.0 605.0,427.6 610.5,426.5 618.3,429.1 631.5,418.0" fill="none" stroke="#000" stroke-width="1"/>
<g fill="#333">
<text x="64" y="24" text-anchor="end">2184.80</text>
<text x="668.6" y="24">2184.80</text>
<text x="64" y="88" text-anchor="end">2084.63</text>
<text x="668.6" y="88">2084.63</text>
<text x="64" y="152" text-anchor="end">1984.46</text>
<text x="668.6" y="152">1984.46</text>
<text x="64" y="216" text-anchor="end">1884.29</text>
<text x="668.6" y="216">1884.29</text>
<text x="64" y="302.4" text-anchor="end">31.86</text>
<text x="668.6" y="302.4">31.86</text>
<text x="64" y="336" text-anchor="end">2.79</text>
<text x="668.6" y="336">2.79</text>
<text x="64" y="391.8" text-anchor="end">86.60</text>
<text x="668.6" y="391.8">86.60</text>
<text x="64" y="421" text-anchor="end">46.81</text>
<text x="668.6" y="421">46.81</text>
</g>
<text x="70.3" y="12.5" fill="#222">现货黄金</text>
<text x="116.5" y="12.5" fill="#e08a30" textLength="50" lengthAdjust="spacing">【日线】</text>
<text x="187.8" y="12.4" fill="#222" textLength="133.5" lengthAdjust="spacing">MA(5,10,30,60,100,200)</text>
<text x="325.8" y="12.4" fill="#222" textLength="74" lengthAdjust="spacing">MA5:2029.11</text>
<text x="408.8" y="12.4" fill="#2a2a60" textLength="82" lengthAdjust="spacing">MA10:2039.64</text>
<text x="498.6" y="12.4" fill="#d040d0" textLength="26.5" lengthAdjust="spacing">MA3</text>
<rect x="174" y="1.5" width="10.5" height="10.8" fill="#fff" stroke="#20185a" stroke-width="1.5"/>
<polyline points="175.5,7.5 177.5,4.5 180,7 183,4" fill="none" stroke="#b03060" stroke-width="1"/>
<polyline points="175.5,10 177.5,6.5 180,9.5 183,6" fill="none" stroke="#20185a" stroke-width="1.1"/>
<text x="71.3" y="291" fill="#222">MACD(26,12,9)</text>
<text x="159.8" y="291" fill="#222" textLength="50" lengthAdjust="spacingAndGlyphs">DIFF:4.75</text>
<text x="220.4" y="291" fill="#2a2a60">DEA:9.59</text>
<text x="278.7" y="291" fill="#d040d0" textLength="69.5" lengthAdjust="spacing">MACD:-9.68</text>
<text x="70.5" y="381.3" fill="#222" textLength="67.5" lengthAdjust="spacing">RSI(6,12,24)</text>
<text x="142" y="381.3" fill="#222" textLength="60.5" lengthAdjust="spacing">RSI1:46.94</text>
<text x="210.2" y="381.3" fill="#2a2a60" textLength="60.5" lengthAdjust="spacing">RSI2:50.20</text>
<text x="277.7" y="381.3" fill="#d040d0" textLength="60" lengthAdjust="spacing">RSI3:53.65</text>
<g>
<circle cx="7" cy="373.7" r="3.4" fill="none" stroke="#1a1010" stroke-width="1.3"/>
<circle cx="7" cy="373.7" r="1.9" fill="#c8203c"/>
<line x1="12.30" y1="373.70" x2="14.00" y2="373.70" stroke="#3a1420" stroke-width="1.4"/>
<line x1="10.75" y1="377.45" x2="11.95" y2="378.65" stroke="#3a1420" stroke-width="1.4"/>
<line x1="7.00" y1="379.00" x2="7.00" y2="380.70" stroke="#3a1420" stroke-width="1.4"/>
<line x1="3.25" y1="377.45" x2="2.05" y2="378.65" stroke="#3a1420" stroke-width="1.4"/>
<line x1="1.70" y1="373.70" x2="0.00" y2="373.70" stroke="#3a1420" stroke-width="1.4"/>
<line x1="3.25" y1="369.95" x2="2.05" y2="368.75" stroke="#3a1420" stroke-width="1.4"/>
<line x1="7.00" y1="368.40" x2="7.00" y2="366.70" stroke="#3a1420" stroke-width="1.4"/>
<line x1="10.75" y1="369.95" x2="11.95" y2="368.75" stroke="#3a1420" stroke-width="1.4"/>
</g>
<rect x="602.5" y="0.5" width="13" height="13" fill="#eef7fd" stroke="#2c6a8c" stroke-width="1"/>
<line x1="602.0" y1="0.5" x2="616.0" y2="0.5" stroke="#2c6a8c" stroke-width="1.5"/>
<rect x="618.5" y="0.5" width="13" height="13" fill="#eef7fd" stroke="#2c6a8c" stroke-width="1"/>
<line x1="618.0" y1="0.5" x2="632.0" y2="0.5" stroke="#2c6a8c" stroke-width="1.5"/>
<rect x="634.5" y="0.5" width="13" height="13" fill="#eef7fd" stroke="#2c6a8c" stroke-width="1"/>
<line x1="634.0" y1="0.5" x2="648.0" y2="0.5" stroke="#2c6a8c" stroke-width="1.5"/>
<rect x="650.5" y="0.5" width="13" height="13" fill="#eef7fd" stroke="#2c6a8c" stroke-width="1"/>
<line x1="650.0" y1="0.5" x2="664.0" y2="0.5" stroke="#2c6a8c" stroke-width="1.5"/>
<g fill="#2a6888">
<rect x="608.5" y="2.5" width="1.6" height="2.5"/><rect x="608.5" y="6" width="1.6" height="1.8"/><rect x="608.5" y="9" width="1.6" height="2.6"/>
<rect x="604" y="6" width="2.6" height="1.8"/><rect x="610.9" y="6" width="2.7" height="1.8"/>
</g>
<g stroke="#2a6888" stroke-width="1.1" fill="none">
<line x1="621.3" y1="2.5" x2="621.3" y2="11.5"/><line x1="621" y1="10.6" x2="630" y2="10.6"/>
<line x1="624.8" y1="4" x2="624.8" y2="8.5"/>
</g>
<polygon points="621.3,2 619.8,4 622.8,4" fill="#2a6888"/>
<polygon points="630.5,10.6 628.5,9.2 628.5,12" fill="#2a6888"/>
<polygon points="628,4 625.2,6.2 628,8.4" fill="#2a6888"/>
<g stroke="#2a6888" stroke-width="1.1" fill="none">
<line x1="637.4" y1="2.5" x2="637.4" y2="11.5"/><line x1="637" y1="10.1" x2="646" y2="10.1"/>
</g>
<polygon points="637.4,2 635.9,4 638.9,4" fill="#2a6888"/>
<polygon points="646.3,10.1 644.3,8.7 644.3,11.5" fill="#2a6888"/>
<polygon points="640.2,3.8 640.2,9.2 645,6.5" fill="#3580b0"/>
<rect x="652.5" y="2.5" width="3" height="9" fill="none" stroke="#2a6888" stroke-width="1"/>
<line x1="655.5" y1="6.8" x2="659.5" y2="6.8" stroke="#2a6888" stroke-width="2"/>
<polygon points="658,4.2 661.6,6.8 658,9.4" fill="#2a6888"/>
<text x="12.2" y="461.5" fill="#e08a30" font-weight="bold">日线</text>
<polygon points="42.6,461 46.75,452.7 50.9,461" fill="#e06a20"/>
<text x="130.6" y="459.2" fill="#333" font-weight="bold">2023/10</text>
<text x="284.9" y="459.2" fill="#333" font-weight="bold">2023/11</text>
<text x="578.5" y="459.2" fill="#333" font-weight="bold">2024/01</text>
<text x="374" y="459.2" fill="#e0a060" textLength="107" lengthAdjust="spacing">2023/11/20 星期一</text>
</svg></body></html>
